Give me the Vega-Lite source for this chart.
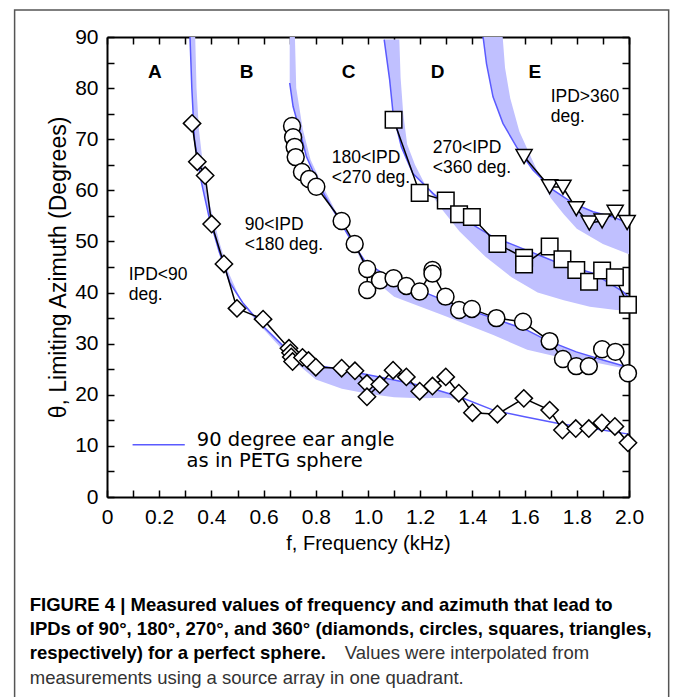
{
  "$schema": "https://vega.github.io/schema/vega-lite/v6.json",
  "width": 522,
  "height": 460,
  "autosize": {"type": "none"},
  "padding": {"left": 107, "top": 37, "right": 44, "bottom": 200},
  "background": "white",
  "config": {"view": {"stroke": null}, "font": "Liberation Sans"},
  "datasets": {
    "frame": [{"fa": -0.354, "fb": 2.152, "ta": 95.3, "tb": -45}],
    "hatch": [
      {"r": "A", "o": 1, "f": 0.318, "t": 90}, {"r": "A", "o": 2, "f": 0.325, "t": 80}, {"r": "A", "o": 3, "f": 0.335, "t": 70}, {"r": "A", "o": 4, "f": 0.36, "t": 62}, {"r": "A", "o": 5, "f": 0.39, "t": 55}, {"r": "A", "o": 6, "f": 0.43, "t": 48}, {"r": "A", "o": 7, "f": 0.47, "t": 42}, {"r": "A", "o": 8, "f": 0.52, "t": 38}, {"r": "A", "o": 9, "f": 0.6, "t": 33.3}, {"r": "A", "o": 10, "f": 0.69, "t": 28.8}, {"r": "A", "o": 11, "f": 0.8, "t": 25.8}, {"r": "A", "o": 12, "f": 0.87, "t": 25.2}, {"r": "A", "o": 13, "f": 1.0, "t": 23.9}, {"r": "A", "o": 14, "f": 1.1, "t": 22.9}, {"r": "A", "o": 15, "f": 1.22, "t": 21.6}, {"r": "A", "o": 16, "f": 1.35, "t": 19.6}, {"r": "A", "o": 17, "f": 1.39, "t": 18.9},
      {"r": "A", "o": 18, "f": 1.3, "t": 19.4}, {"r": "A", "o": 19, "f": 1.2, "t": 19.3}, {"r": "A", "o": 20, "f": 1.1, "t": 19.5}, {"r": "A", "o": 21, "f": 1.0, "t": 20.2}, {"r": "A", "o": 22, "f": 0.9, "t": 21.2}, {"r": "A", "o": 23, "f": 0.8, "t": 23}, {"r": "A", "o": 24, "f": 0.7, "t": 27.3}, {"r": "A", "o": 25, "f": 0.6, "t": 32.8}, {"r": "A", "o": 26, "f": 0.53, "t": 37}, {"r": "A", "o": 27, "f": 0.5, "t": 40}, {"r": "A", "o": 28, "f": 0.465, "t": 44}, {"r": "A", "o": 29, "f": 0.43, "t": 50}, {"r": "A", "o": 30, "f": 0.395, "t": 57}, {"r": "A", "o": 31, "f": 0.37, "t": 64}, {"r": "A", "o": 32, "f": 0.352, "t": 72}, {"r": "A", "o": 33, "f": 0.343, "t": 80}, {"r": "A", "o": 34, "f": 0.338, "t": 90},
      {"r": "B", "o": 1, "f": 0.7, "t": 90}, {"r": "B", "o": 2, "f": 0.7, "t": 81}, {"r": "B", "o": 3, "f": 0.713, "t": 76.4}, {"r": "B", "o": 4, "f": 0.738, "t": 71.8}, {"r": "B", "o": 5, "f": 0.764, "t": 66.6}, {"r": "B", "o": 6, "f": 0.815, "t": 60.7}, {"r": "B", "o": 7, "f": 0.866, "t": 56.2}, {"r": "B", "o": 8, "f": 0.943, "t": 49.6}, {"r": "B", "o": 9, "f": 0.994, "t": 45.7}, {"r": "B", "o": 10, "f": 1.057, "t": 43.8}, {"r": "B", "o": 11, "f": 1.15, "t": 41.5}, {"r": "B", "o": 12, "f": 1.224, "t": 39.9}, {"r": "B", "o": 13, "f": 1.351, "t": 37.2}, {"r": "B", "o": 14, "f": 1.479, "t": 35.0}, {"r": "B", "o": 15, "f": 1.607, "t": 32.7}, {"r": "B", "o": 16, "f": 1.684, "t": 30.7}, {"r": "B", "o": 17, "f": 1.798, "t": 28.4}, {"r": "B", "o": 18, "f": 1.9, "t": 26.8}, {"r": "B", "o": 19, "f": 1.99, "t": 25.5},
      {"r": "B", "o": 20, "f": 1.98, "t": 25.2}, {"r": "B", "o": 21, "f": 1.86, "t": 26.4}, {"r": "B", "o": 22, "f": 1.73, "t": 27.4}, {"r": "B", "o": 23, "f": 1.61, "t": 28.8}, {"r": "B", "o": 24, "f": 1.48, "t": 31.7}, {"r": "B", "o": 25, "f": 1.29, "t": 35.5}, {"r": "B", "o": 26, "f": 1.1, "t": 39.2}, {"r": "B", "o": 27, "f": 1.0, "t": 43.5}, {"r": "B", "o": 28, "f": 0.95, "t": 48.8}, {"r": "B", "o": 29, "f": 0.88, "t": 55.5}, {"r": "B", "o": 30, "f": 0.83, "t": 60.5}, {"r": "B", "o": 31, "f": 0.78, "t": 66}, {"r": "B", "o": 32, "f": 0.75, "t": 72}, {"r": "B", "o": 33, "f": 0.725, "t": 80}, {"r": "B", "o": 34, "f": 0.72, "t": 90},
      {"r": "C", "o": 1, "f": 1.062, "t": 89.5}, {"r": "C", "o": 2, "f": 1.083, "t": 81.6}, {"r": "C", "o": 3, "f": 1.096, "t": 75.1}, {"r": "C", "o": 4, "f": 1.128, "t": 68.5}, {"r": "C", "o": 5, "f": 1.172, "t": 63.3}, {"r": "C", "o": 6, "f": 1.249, "t": 59.4}, {"r": "C", "o": 7, "f": 1.351, "t": 54.8}, {"r": "C", "o": 8, "f": 1.479, "t": 50.9}, {"r": "C", "o": 9, "f": 1.607, "t": 48.3}, {"r": "C", "o": 10, "f": 1.734, "t": 45.7}, {"r": "C", "o": 11, "f": 1.862, "t": 43.8}, {"r": "C", "o": 12, "f": 1.977, "t": 40.2}, {"r": "C", "o": 13, "f": 2.0, "t": 39.0},
      {"r": "C", "o": 14, "f": 2.0, "t": 36.5}, {"r": "C", "o": 15, "f": 1.95, "t": 36.6}, {"r": "C", "o": 16, "f": 1.85, "t": 37.2}, {"r": "C", "o": 17, "f": 1.75, "t": 38.5}, {"r": "C", "o": 18, "f": 1.65, "t": 40}, {"r": "C", "o": 19, "f": 1.55, "t": 43}, {"r": "C", "o": 20, "f": 1.45, "t": 47}, {"r": "C", "o": 21, "f": 1.35, "t": 52}, {"r": "C", "o": 22, "f": 1.28, "t": 56.5}, {"r": "C", "o": 23, "f": 1.22, "t": 61}, {"r": "C", "o": 24, "f": 1.18, "t": 65}, {"r": "C", "o": 25, "f": 1.15, "t": 69}, {"r": "C", "o": 26, "f": 1.135, "t": 75}, {"r": "C", "o": 27, "f": 1.125, "t": 82}, {"r": "C", "o": 28, "f": 1.12, "t": 89.5},
      {"r": "D", "o": 1, "f": 1.441, "t": 90}, {"r": "D", "o": 2, "f": 1.454, "t": 84.8}, {"r": "D", "o": 3, "f": 1.479, "t": 78.3}, {"r": "D", "o": 4, "f": 1.517, "t": 73.1}, {"r": "D", "o": 5, "f": 1.569, "t": 68.5}, {"r": "D", "o": 6, "f": 1.632, "t": 64}, {"r": "D", "o": 7, "f": 1.709, "t": 60.1}, {"r": "D", "o": 8, "f": 1.785, "t": 57.5}, {"r": "D", "o": 9, "f": 1.862, "t": 55.8}, {"r": "D", "o": 10, "f": 1.939, "t": 54.8}, {"r": "D", "o": 11, "f": 2.0, "t": 53.5},
      {"r": "D", "o": 12, "f": 2.0, "t": 47.5}, {"r": "D", "o": 13, "f": 1.9, "t": 49.5}, {"r": "D", "o": 14, "f": 1.8, "t": 52.5}, {"r": "D", "o": 15, "f": 1.75, "t": 55.3}, {"r": "D", "o": 16, "f": 1.7, "t": 58.5}, {"r": "D", "o": 17, "f": 1.66, "t": 62.5}, {"r": "D", "o": 18, "f": 1.62, "t": 67}, {"r": "D", "o": 19, "f": 1.58, "t": 71.5}, {"r": "D", "o": 20, "f": 1.545, "t": 78}, {"r": "D", "o": 21, "f": 1.525, "t": 84}, {"r": "D", "o": 22, "f": 1.516, "t": 90}
    ],
    "curves": [
      {"r": "A", "o": 1, "f": 0.318, "t": 90}, {"r": "A", "o": 2, "f": 0.325, "t": 80}, {"r": "A", "o": 3, "f": 0.335, "t": 70}, {"r": "A", "o": 4, "f": 0.36, "t": 62}, {"r": "A", "o": 5, "f": 0.39, "t": 55}, {"r": "A", "o": 6, "f": 0.43, "t": 48}, {"r": "A", "o": 7, "f": 0.47, "t": 42}, {"r": "A", "o": 8, "f": 0.52, "t": 38}, {"r": "A", "o": 9, "f": 0.6, "t": 33.3}, {"r": "A", "o": 10, "f": 0.69, "t": 28.8}, {"r": "A", "o": 11, "f": 0.8, "t": 25.8}, {"r": "A", "o": 12, "f": 0.87, "t": 25.2}, {"r": "A", "o": 13, "f": 1.0, "t": 23.9}, {"r": "A", "o": 14, "f": 1.1, "t": 22.9}, {"r": "A", "o": 15, "f": 1.22, "t": 21.6}, {"r": "A", "o": 16, "f": 1.35, "t": 19.6}, {"r": "A", "o": 17, "f": 1.48, "t": 17.0}, {"r": "A", "o": 18, "f": 1.6, "t": 15.7}, {"r": "A", "o": 19, "f": 1.73, "t": 14.4}, {"r": "A", "o": 20, "f": 1.86, "t": 13.4}, {"r": "A", "o": 21, "f": 2.0, "t": 12.3},
      {"r": "B", "o": 1, "f": 0.7, "t": 81}, {"r": "B", "o": 2, "f": 0.713, "t": 76.4}, {"r": "B", "o": 3, "f": 0.738, "t": 71.8}, {"r": "B", "o": 4, "f": 0.764, "t": 66.6}, {"r": "B", "o": 5, "f": 0.815, "t": 60.7}, {"r": "B", "o": 6, "f": 0.866, "t": 56.2}, {"r": "B", "o": 7, "f": 0.943, "t": 49.6}, {"r": "B", "o": 8, "f": 0.994, "t": 45.7}, {"r": "B", "o": 9, "f": 1.057, "t": 43.8}, {"r": "B", "o": 10, "f": 1.15, "t": 41.5}, {"r": "B", "o": 11, "f": 1.224, "t": 39.9}, {"r": "B", "o": 12, "f": 1.351, "t": 37.2}, {"r": "B", "o": 13, "f": 1.479, "t": 35.0}, {"r": "B", "o": 14, "f": 1.607, "t": 32.7}, {"r": "B", "o": 15, "f": 1.684, "t": 30.7}, {"r": "B", "o": 16, "f": 1.798, "t": 28.4}, {"r": "B", "o": 17, "f": 1.9, "t": 26.8}, {"r": "B", "o": 18, "f": 1.99, "t": 25.5},
      {"r": "C", "o": 1, "f": 1.062, "t": 89.5}, {"r": "C", "o": 2, "f": 1.083, "t": 81.6}, {"r": "C", "o": 3, "f": 1.096, "t": 75.1}, {"r": "C", "o": 4, "f": 1.128, "t": 68.5}, {"r": "C", "o": 5, "f": 1.172, "t": 63.3}, {"r": "C", "o": 6, "f": 1.249, "t": 59.4}, {"r": "C", "o": 7, "f": 1.351, "t": 54.8}, {"r": "C", "o": 8, "f": 1.479, "t": 50.9}, {"r": "C", "o": 9, "f": 1.607, "t": 48.3}, {"r": "C", "o": 10, "f": 1.734, "t": 45.7}, {"r": "C", "o": 11, "f": 1.862, "t": 43.8}, {"r": "C", "o": 12, "f": 1.977, "t": 40.2}, {"r": "C", "o": 13, "f": 2.0, "t": 39.0},
      {"r": "D", "o": 1, "f": 1.441, "t": 90}, {"r": "D", "o": 2, "f": 1.454, "t": 84.8}, {"r": "D", "o": 3, "f": 1.479, "t": 78.3}, {"r": "D", "o": 4, "f": 1.517, "t": 73.1}, {"r": "D", "o": 5, "f": 1.569, "t": 68.5}, {"r": "D", "o": 6, "f": 1.632, "t": 64}, {"r": "D", "o": 7, "f": 1.709, "t": 60.1}, {"r": "D", "o": 8, "f": 1.785, "t": 57.5}, {"r": "D", "o": 9, "f": 1.862, "t": 55.8}, {"r": "D", "o": 10, "f": 1.939, "t": 54.8}, {"r": "D", "o": 11, "f": 2.0, "t": 53.5}
    ],
    "meas": [
      {"s": "90", "o": 1, "f": 0.326, "t": 73.1}, {"s": "90", "o": 2, "f": 0.346, "t": 65.6}, {"s": "90", "o": 3, "f": 0.376, "t": 62.9}, {"s": "90", "o": 4, "f": 0.401, "t": 53.4}, {"s": "90", "o": 5, "f": 0.448, "t": 45.6}, {"s": "90", "o": 6, "f": 0.498, "t": 36.9}, {"s": "90", "o": 7, "f": 0.598, "t": 34.8}, {"s": "90", "o": 8, "f": 0.697, "t": 29.1}, {"s": "90", "o": 9, "f": 0.703, "t": 28.2}, {"s": "90", "o": 10, "f": 0.706, "t": 27.4}, {"s": "90", "o": 11, "f": 0.711, "t": 26.5}, {"s": "90", "o": 12, "f": 0.749, "t": 27.3}, {"s": "90", "o": 13, "f": 0.772, "t": 26.7}, {"s": "90", "o": 14, "f": 0.8, "t": 25.4}, {"s": "90", "o": 15, "f": 0.899, "t": 25.2}, {"s": "90", "o": 16, "f": 0.95, "t": 24.7}, {"s": "90", "o": 17, "f": 0.996, "t": 22.2}, {"s": "90", "o": 18, "f": 0.996, "t": 19.6}, {"s": "90", "o": 19, "f": 1.045, "t": 22.0}, {"s": "90", "o": 20, "f": 1.096, "t": 24.8}, {"s": "90", "o": 21, "f": 1.147, "t": 23.5}, {"s": "90", "o": 22, "f": 1.198, "t": 20.7}, {"s": "90", "o": 23, "f": 1.247, "t": 21.7}, {"s": "90", "o": 24, "f": 1.298, "t": 23.5}, {"s": "90", "o": 25, "f": 1.348, "t": 20.3}, {"s": "90", "o": 26, "f": 1.4, "t": 16.5}, {"s": "90", "o": 27, "f": 1.496, "t": 16.2}, {"s": "90", "o": 28, "f": 1.597, "t": 19.3}, {"s": "90", "o": 29, "f": 1.696, "t": 17.0}, {"s": "90", "o": 30, "f": 1.745, "t": 13.1}, {"s": "90", "o": 31, "f": 1.796, "t": 13.4}, {"s": "90", "o": 32, "f": 1.846, "t": 13.4}, {"s": "90", "o": 33, "f": 1.896, "t": 14.5}, {"s": "90", "o": 34, "f": 1.946, "t": 13.8}, {"s": "90", "o": 35, "f": 1.996, "t": 10.6},
      {"s": "180", "o": 1, "f": 0.709, "t": 72.6}, {"s": "180", "o": 2, "f": 0.713, "t": 70.4}, {"s": "180", "o": 3, "f": 0.719, "t": 68.5}, {"s": "180", "o": 4, "f": 0.723, "t": 66.5}, {"s": "180", "o": 5, "f": 0.747, "t": 63.6}, {"s": "180", "o": 6, "f": 0.774, "t": 62.2}, {"s": "180", "o": 7, "f": 0.802, "t": 60.7}, {"s": "180", "o": 8, "f": 0.899, "t": 54.0}, {"s": "180", "o": 9, "f": 0.949, "t": 49.5}, {"s": "180", "o": 10, "f": 0.997, "t": 44.6}, {"s": "180", "o": 11, "f": 0.997, "t": 40.5}, {"s": "180", "o": 12, "f": 1.046, "t": 42.4}, {"s": "180", "o": 13, "f": 1.098, "t": 42.8}, {"s": "180", "o": 14, "f": 1.147, "t": 41.3}, {"s": "180", "o": 15, "f": 1.198, "t": 40.2}, {"s": "180", "o": 16, "f": 1.247, "t": 44.4}, {"s": "180", "o": 17, "f": 1.247, "t": 43.7}, {"s": "180", "o": 18, "f": 1.297, "t": 39.2}, {"s": "180", "o": 19, "f": 1.349, "t": 36.6}, {"s": "180", "o": 20, "f": 1.398, "t": 36.8}, {"s": "180", "o": 21, "f": 1.492, "t": 35.0}, {"s": "180", "o": 22, "f": 1.594, "t": 34.3}, {"s": "180", "o": 23, "f": 1.696, "t": 30.5}, {"s": "180", "o": 24, "f": 1.747, "t": 27.0}, {"s": "180", "o": 25, "f": 1.798, "t": 25.6}, {"s": "180", "o": 26, "f": 1.846, "t": 25.6}, {"s": "180", "o": 27, "f": 1.897, "t": 28.9}, {"s": "180", "o": 28, "f": 1.948, "t": 28.4}, {"s": "180", "o": 29, "f": 1.996, "t": 24.2},
      {"s": "270", "o": 1, "f": 1.098, "t": 73.8}, {"s": "270", "o": 2, "f": 1.198, "t": 59.5}, {"s": "270", "o": 3, "f": 1.298, "t": 58.0}, {"s": "270", "o": 4, "f": 1.349, "t": 55.3}, {"s": "270", "o": 5, "f": 1.398, "t": 54.8}, {"s": "270", "o": 6, "f": 1.496, "t": 49.5}, {"s": "270", "o": 7, "f": 1.598, "t": 46.8}, {"s": "270", "o": 8, "f": 1.598, "t": 45.5}, {"s": "270", "o": 9, "f": 1.696, "t": 49.0}, {"s": "270", "o": 10, "f": 1.745, "t": 46.5}, {"s": "270", "o": 11, "f": 1.798, "t": 44.4}, {"s": "270", "o": 12, "f": 1.847, "t": 42.1}, {"s": "270", "o": 13, "f": 1.897, "t": 44.3}, {"s": "270", "o": 14, "f": 1.946, "t": 43.0}, {"s": "270", "o": 15, "f": 1.996, "t": 37.6},
      {"s": "360", "o": 1, "f": 1.598, "t": 66.6}, {"s": "360", "o": 2, "f": 1.696, "t": 60.7}, {"s": "360", "o": 3, "f": 1.747, "t": 60.6}, {"s": "360", "o": 4, "f": 1.798, "t": 56.4}, {"s": "360", "o": 5, "f": 1.848, "t": 53.6}, {"s": "360", "o": 6, "f": 1.897, "t": 54.0}, {"s": "360", "o": 7, "f": 1.947, "t": 55.7}, {"s": "360", "o": 8, "f": 1.993, "t": 53.7}
    ],
    "letters": [
      {"f": 0.183, "t": 83.2, "txt": "A"}, {"f": 0.535, "t": 83.2, "txt": "B"}, {"f": 0.926, "t": 83.2, "txt": "C"}, {"f": 1.267, "t": 83.2, "txt": "D"}, {"f": 1.639, "t": 83.2, "txt": "E"}
    ],
    "notes": [
      {"f": 0.083, "t": 43.4, "txt": "IPD<90"}, {"f": 0.083, "t": 39.5, "txt": "deg."},
      {"f": 0.528, "t": 53.2, "txt": "90<IPD"}, {"f": 0.528, "t": 49.3, "txt": "<180 deg."},
      {"f": 0.861, "t": 66.3, "txt": "180<IPD"}, {"f": 0.861, "t": 62.4, "txt": "<270 deg."},
      {"f": 1.248, "t": 68.3, "txt": "270<IPD"}, {"f": 1.248, "t": 64.4, "txt": "<360 deg."},
      {"f": 1.7, "t": 78.3, "txt": "IPD>360"}, {"f": 1.7, "t": 74.3, "txt": "deg."}
    ],
    "legline": [{"f": 0.098, "t": 10.2}, {"f": 0.298, "t": 10.2}],
    "legtext": [
      {"f": 0.344, "t": 11.2, "txt": "90 degree ear angle"}, {"f": 0.305, "t": 7.0, "txt": "as in PETG sphere"}
    ],
    "capbold": [
      {"f": -0.296, "t": -21.1, "txt": "FIGURE 4 | Measured values of frequency and azimuth that lead to"},
      {"f": -0.296, "t": -25.8, "txt": "IPDs of 90°, 180°, 270°, and 360° (diamonds, circles, squares, triangles,"},
      {"f": -0.296, "t": -30.5, "txt": "respectively) for a perfect sphere."}
    ],
    "capnorm": [
      {"f": 0.911, "t": -30.5, "txt": "Values were interpolated from"},
      {"f": -0.296, "t": -35.4, "txt": "measurements using a source array in one quadrant."}
    ]
  },
  "layer": [
    {
      "data": {"name": "hatch"},
      "mark": {"type": "line", "fill": "#c0c0ff", "strokeWidth": 0, "clip": true},
      "encoding": {
        "x": {"field": "f", "type": "quantitative", "scale": {"domain": [0, 2], "nice": false, "zero": false},
          "axis": {"orient": "bottom", "values": [0, 0.1, 0.2, 0.3, 0.4, 0.5, 0.6, 0.7, 0.8, 0.9, 1.0, 1.1, 1.2, 1.3, 1.4, 1.5, 1.6, 1.7, 1.8, 1.9, 2.0],
            "labelExpr": "round(datum.value*10) % 2 == 0 ? (datum.value == 0 ? '0' : format(datum.value, '.1f')) : ''",
            "tickSize": -7, "tickWidth": 1.5, "tickColor": "black", "domainColor": "black", "domainWidth": 2,
            "labelFont": "Liberation Sans", "labelFontSize": 21, "labelColor": "black", "labelPadding": 16,
            "labelOverlap": false, "labelFlush": false, "labelBound": false, "grid": false,
            "title": "f,  Frequency  (kHz)", "titleFont": "Liberation Sans", "titleFontSize": 20, "titleFontWeight": "normal", "titleColor": "black", "titlePadding": 6}},
        "y": {"field": "t", "type": "quantitative", "scale": {"domain": [0, 90], "nice": false, "zero": false},
          "axis": {"orient": "left", "values": [0, 5, 10, 15, 20, 25, 30, 35, 40, 45, 50, 55, 60, 65, 70, 75, 80, 85, 90],
            "labelExpr": "datum.value % 10 == 0 ? datum.label : ''",
            "tickSize": -7, "tickWidth": 1.5, "tickColor": "black", "domainColor": "black", "domainWidth": 2,
            "labelFont": "Liberation Sans", "labelFontSize": 21, "labelColor": "black", "labelPadding": 16,
            "labelOverlap": false, "labelFlush": false, "labelBound": false, "grid": false,
            "title": "θ,  Limiting  Azimuth  (Degrees)", "titleFont": "Liberation Sans", "titleFontSize": 23, "titleFontWeight": "normal", "titleColor": "black", "titlePadding": 4}},
        "detail": {"field": "r", "type": "nominal"},
        "order": {"field": "o", "type": "quantitative"}
      }
    },
    {
      "data": {"name": "curves"},
      "mark": {"type": "line", "color": "#5a5aff", "strokeWidth": 1.5},
      "encoding": {
        "x": {"field": "f", "type": "quantitative",
          "axis": {"orient": "top", "values": [0, 0.1, 0.2, 0.3, 0.4, 0.5, 0.6, 0.7, 0.8, 0.9, 1.0, 1.1, 1.2, 1.3, 1.4, 1.5, 1.6, 1.7, 1.8, 1.9, 2.0],
            "labels": false, "title": null, "tickSize": -7, "tickWidth": 1.5, "tickColor": "black", "domainColor": "black", "domainWidth": 2, "grid": false}},
        "y": {"field": "t", "type": "quantitative",
          "axis": {"orient": "right", "values": [0, 5, 10, 15, 20, 25, 30, 35, 40, 45, 50, 55, 60, 65, 70, 75, 80, 85, 90],
            "labels": false, "title": null, "tickSize": -7, "tickWidth": 1.5, "tickColor": "black", "domainColor": "black", "domainWidth": 2, "grid": false}},
        "detail": {"field": "r", "type": "nominal"},
        "order": {"field": "o", "type": "quantitative"}
      }
    },
    {
      "data": {"name": "meas"},
      "mark": {"type": "line", "color": "black", "strokeWidth": 1.5},
      "encoding": {
        "x": {"field": "f", "type": "quantitative", "axis": null},
        "y": {"field": "t", "type": "quantitative", "axis": null},
        "detail": {"field": "s", "type": "nominal"},
        "order": {"field": "o", "type": "quantitative"}
      }
    },
    {
      "data": {"name": "meas"},
      "mark": {"type": "point", "filled": false, "fill": "white", "fillOpacity": 1, "stroke": "black", "strokeWidth": 1.5, "opacity": 1},
      "encoding": {
        "x": {"field": "f", "type": "quantitative", "axis": null},
        "y": {"field": "t", "type": "quantitative", "axis": null},
        "shape": {"field": "s", "type": "nominal", "scale": {"domain": ["90", "180", "270", "360"], "range": ["diamond", "circle", "square", "triangle-down"]}, "legend": null},
        "size": {"field": "s", "type": "ordinal", "scale": {"domain": ["90", "180", "270", "360"], "range": [300, 260, 225, 250]}, "legend": null}
      }
    },
    {
      "data": {"name": "letters"},
      "mark": {"type": "text", "font": "Liberation Sans", "fontSize": 19, "fontWeight": "bold", "color": "black", "align": "center", "baseline": "middle"},
      "encoding": {
        "x": {"field": "f", "type": "quantitative", "axis": null},
        "y": {"field": "t", "type": "quantitative", "axis": null},
        "text": {"field": "txt"}
      }
    },
    {
      "data": {"name": "notes"},
      "mark": {"type": "text", "font": "Liberation Sans", "fontSize": 17.5, "color": "black", "align": "left", "baseline": "middle"},
      "encoding": {
        "x": {"field": "f", "type": "quantitative", "axis": null},
        "y": {"field": "t", "type": "quantitative", "axis": null},
        "text": {"field": "txt"}
      }
    },
    {
      "data": {"name": "legline"},
      "mark": {"type": "line", "color": "#5a5aff", "strokeWidth": 1.5},
      "encoding": {
        "x": {"field": "f", "type": "quantitative", "axis": null},
        "y": {"field": "t", "type": "quantitative", "axis": null}
      }
    },
    {
      "data": {"name": "legtext"},
      "mark": {"type": "text", "font": "DejaVu Sans", "fontSize": 19.5, "color": "black", "align": "left", "baseline": "middle"},
      "encoding": {
        "x": {"field": "f", "type": "quantitative", "axis": null},
        "y": {"field": "t", "type": "quantitative", "axis": null},
        "text": {"field": "txt"}
      }
    },
    {
      "data": {"name": "capbold"},
      "mark": {"type": "text", "font": "Liberation Sans", "fontSize": 18.5, "fontWeight": "bold", "color": "black", "align": "left", "baseline": "middle", "clip": false},
      "encoding": {
        "x": {"field": "f", "type": "quantitative", "axis": null},
        "y": {"field": "t", "type": "quantitative", "axis": null},
        "text": {"field": "txt"}
      }
    },
    {
      "data": {"name": "capnorm"},
      "mark": {"type": "text", "font": "Liberation Sans", "fontSize": 18.5, "color": "#333333", "align": "left", "baseline": "middle", "clip": false},
      "encoding": {
        "x": {"field": "f", "type": "quantitative", "axis": null},
        "y": {"field": "t", "type": "quantitative", "axis": null},
        "text": {"field": "txt"}
      }
    },
    {
      "data": {"name": "frame"},
      "mark": {"type": "rect", "fill": null, "fillOpacity": 0, "stroke": "#555555", "strokeWidth": 1.5, "clip": false},
      "encoding": {
        "x": {"field": "fa", "type": "quantitative", "axis": null},
        "x2": {"field": "fb"},
        "y": {"field": "ta", "type": "quantitative", "axis": null},
        "y2": {"field": "tb"}
      }
    }
  ],
  "resolve": {"axis": {"x": "independent", "y": "independent"}}
}
